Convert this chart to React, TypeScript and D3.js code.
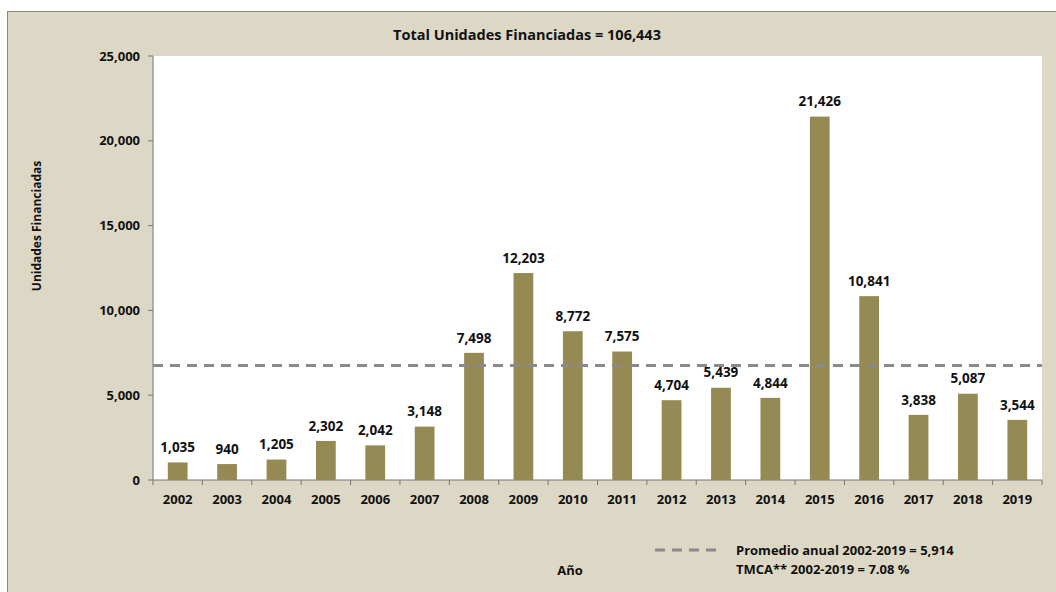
import React from "react";
import * as d3 from "d3";

const years = ["2002","2003","2004","2005","2006","2007","2008","2009","2010","2011","2012","2013","2014","2015","2016","2017","2018","2019"];
const units = [1035,940,1205,2302,2042,3148,7498,12203,8772,7575,4704,5439,4844,21426,10841,3838,5087,3544];
const yTicks = [0,5000,10000,15000,20000,25000];
const avgLineValue = 6750;
const titleText = "Total Unidades Financiadas = 106,443";
const legendLines = ["Promedio anual 2002-2019 = 5,914", "TMCA** 2002-2019 =  7.08 %"];

export default function App() {
  const W = 1056, H = 592;
  const left = 153, right = 1042, top = 56, bottom = 480;
  const x = d3.scaleBand<string>().domain(years).range([left, right]).paddingInner(0.6).paddingOuter(0.3);
  const xb = d3.scaleBand<string>().domain(years).range([left, right]);
  const y = d3.scaleLinear().domain([0, 25000]).range([bottom, top]);
  const fmt = d3.format(",");
  const font = "'Open Sans', sans-serif";
  const barColor = "#958A53";
  return (
    <svg width={W} height={H} style={{ position: "absolute", left: 0, top: 0 }} fontFamily={font}>
      <rect x={0} y={0} width={W} height={H} fill="#ffffff" />
      <rect x={7.5} y={11.5} width={W} height={H} fill="#DDD8C5" stroke="#8C8979" strokeWidth={1} />
      <rect x={left} y={top} width={right - left} height={bottom - top} fill="#ffffff" />
      <text x={527} y={35} dy="0.35em" textAnchor="middle" fontSize={14.5} fontWeight="bold" fill="#111">{titleText}</text>
      {/* y axis */}
      <line x1={left} x2={left} y1={top} y2={bottom} stroke="#777" />
      {yTicks.map(t => (
        <g key={t}>
          <line x1={left - 5} x2={left} y1={y(t)} y2={y(t)} stroke="#777" />
          <text x={left - 13} y={y(t)} dy="0.35em" textAnchor="end" fontSize={13} fontWeight="bold" fill="#111">{fmt(t)}</text>
        </g>
      ))}
      {/* x axis */}
      <line x1={left} x2={right} y1={bottom} y2={bottom} stroke="#777" />
      {years.map(yr => (
        <line key={"t" + yr} x1={xb(yr)!} x2={xb(yr)!} y1={bottom} y2={bottom + 5} stroke="#777" />
      ))}
      <line x1={right} x2={right} y1={bottom} y2={bottom + 5} stroke="#777" />
      {years.map((yr, i) => (
        <g key={yr}>
          <rect x={x(yr)!} y={y(units[i])} width={x.bandwidth()} height={bottom - y(units[i])} fill={barColor} />
          <text x={x(yr)! + x.bandwidth() / 2} y={y(units[i]) - 15} dy="0.35em" textAnchor="middle" fontSize={13.5} fontWeight="bold" fill="#111">{fmt(units[i])}</text>
          <text x={xb(yr)! + xb.bandwidth() / 2} y={bottom + 19} dy="0.35em" textAnchor="middle" fontSize={13} fontWeight="bold" fill="#111">{yr}</text>
        </g>
      ))}
      <line x1={left} x2={right} y1={y(avgLineValue)} y2={y(avgLineValue)} stroke="#8A8A8A" strokeWidth={3} strokeDasharray="10,7" />
      <text transform={`translate(41,226) rotate(-90)`} textAnchor="middle" fontSize={12} fontWeight="bold" fill="#111">Unidades Financiadas</text>
      <text x={570} y={570} dy="0.35em" textAnchor="middle" fontSize={13} fontWeight="bold" fill="#111">Año</text>
      <line x1={655} x2={722} y1={550} y2={550} stroke="#8A8A8A" strokeWidth={3} strokeDasharray="10,7" />
      <text x={736} y={550} dy="0.35em" fontSize={13} fontWeight="bold" fill="#111">{legendLines[0]}</text>
      <text x={736} y={569} dy="0.35em" fontSize={13} fontWeight="bold" fill="#111">{legendLines[1]}</text>
    </svg>
  );
}
